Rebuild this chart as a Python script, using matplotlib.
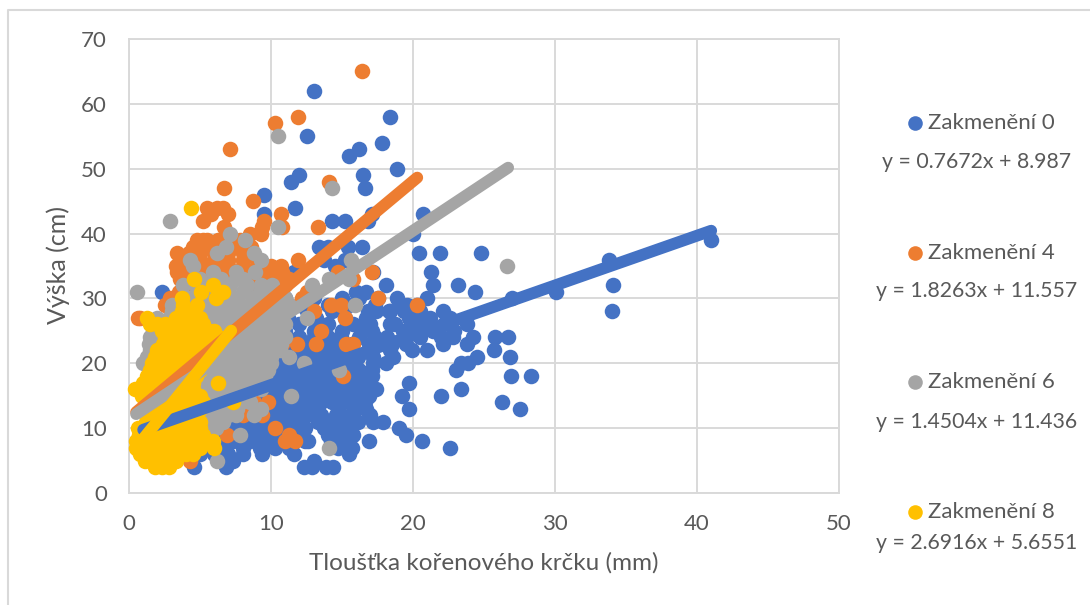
import numpy as np
import matplotlib
matplotlib.use('Agg')
import matplotlib.pyplot as plt
from matplotlib.lines import Line2D

plt.rcParams['font.family'] = ['Lato', 'DejaVu Sans']

W, H = 1090, 605

names = ['Zakmenění 0', 'Zakmenění 4', 'Zakmenění 6', 'Zakmenění 8']
equations = ['y = 0.7672x + 8.987', 'y = 1.8263x + 11.557',
             'y = 1.4504x + 11.436', 'y = 2.6916x + 5.6551']
colors = ['#4472C4', '#ED7D31', '#A5A5A5', '#FFC000']
slopes = [0.7672, 1.8263, 1.4504, 2.6916]
intercepts = [8.987, 11.557, 11.436, 5.6551]
line_start = [1.0, 0.5, 0.5, 0.8]
line_end = [41.0, 20.3, 26.7, 7.2]

# heights are whole cm, so points are kept as height: [thickness, ...]
blue_rows = {
    62: [13], 58: [18.4], 55: [12.5], 54: [17.8], 53: [16.2], 52: [15.5], 50: [18.9],
    49: [16.5, 12], 48: [11.4], 47: [16.6], 46: [9.5], 44: [11.7], 43: [9.5, 17.1, 20.7],
    42: [14.3, 15.2, 16.8], 40: [20], 39: [41], 38: [13.4, 14, 15.4, 16.4],
    37: [20.4, 21.9, 24.8], 36: [13.7, 15.2, 33.8], 35: [14.5], 34: [11.6, 17.2, 21.3],
    32: [18.1, 21.4, 23.2, 34.1], 31: [2.3, 16, 16.7, 24.4, 30.1], 30: [11, 13, 15, 16.2, 17.5, 18.9, 21, 27],
    29: [12, 14, 15.5, 17.3, 19.2, 19.6, 20.3],
    28: [10.5, 12.5, 14.3, 16.8, 17.4, 18.3, 18.4, 19.4, 20.5, 22.1, 34],
    27: [11.2, 13.2, 15.2, 16.7, 19.7, 20.2, 21.2, 22.6],
    26: [10, 12, 14, 15.8, 17, 18.4, 18.7, 20, 20.8, 21, 22.2, 23.8],
    25: [11, 13, 15, 16.4, 17.1, 19.3, 20.2, 21.4, 22.9],
    24: [10, 11, 12, 13, 14, 14.9, 16.2, 17.3, 18.2, 20.5, 22, 22.8, 24.2, 25.8, 26.7],
    23: [9, 10, 11, 12.7, 13.4, 14.2, 15, 15.7, 16.9, 18.5, 19.5, 22.1, 23.8],
    22: [9.5, 10.7, 11.4, 12.1, 13, 13.7, 14.6, 15.4, 17, 18.4, 19.9, 21, 25.7],
    21: [8.7, 10, 11.3, 12.1, 12.9, 13.6, 14.3, 15.2, 16.1, 17.2, 18.6, 24.5, 26.8],
    20: [9.2, 10.4, 11.2, 12, 12.7, 13.3, 14.2, 15, 15.9, 17.2, 18.1, 23.4, 23.9],
    19: [8.8, 9.9, 10.8, 11.8, 12.7, 13.6, 14.5, 15.4, 16.2, 17.1, 23],
    18: [8.2, 9.3, 10.5, 11.2, 12.2, 13.2, 14.2, 15.5, 16.6, 17.1, 26.9, 28.3],
    17: [9, 10, 10.8, 11.5, 12, 13, 14, 15.1, 16.3, 19.7],
    16: [8, 9.5, 10.2, 11, 12.2, 13.5, 14.5, 15.7, 17, 17.4, 23.4],
    15: [8.5, 9.8, 10.5, 11.5, 12.8, 13.9, 14.9, 16.1, 16.9, 19.2, 22],
    14: [7.5, 9, 10.2, 11.2, 12.3, 13.5, 14.3, 15.4, 16.6, 26.3],
    13: [8, 9.5, 10.3, 11, 12, 13, 14.7, 16, 16.7, 19.7, 27.5],
    12: [7.3, 8.7, 10, 11.3, 12.5, 13.5, 14.6, 15.6, 17],
    11: [7, 8.3, 9.5, 10.7, 12, 13.3, 14.3, 15.2, 15.6, 16.1, 17.2, 17.9],
    10: [7.5, 8.8, 10, 11.3, 12.4, 13.7, 14.5, 15.4, 19],
    9: [6.8, 8, 9.3, 10.5, 11.7, 14, 14.2, 15.1, 15.8, 19.5],
    8: [6, 7.3, 8.5, 9.7, 10.3, 10.7, 11, 12.4, 12.6, 14.2, 15.3, 16.9, 20.6],
    7: [5.5, 6.7, 8, 9.2, 10.3, 11.3, 14.7, 15.7, 22.6],
    6: [5, 6, 7, 8, 9.4, 11.6, 15.5],
    5: [3.2, 7.3, 13],
    4: [4.6, 6.8, 12.3, 12.9, 13.9, 14.4],
}

orange_rows = {
    65: [16.4], 58: [11.9], 57: [10.3], 53: [7.1], 48: [14.1], 47: [6.7], 45: [8.7],
    44: [5.5, 6.6, 6.2], 43: [5.8, 7, 10.7], 42: [5.2, 9.5], 41: [6.7, 9.4, 10.8, 13.3],
    40: [9.3, 8.5], 39: [4.8, 5.2, 5.5, 6.3, 7.8],
    38: [4.5, 5, 5.3, 6, 6.8, 7.5, 8.6], 37: [3.4, 4.2, 5, 6, 7, 8, 8.6],
    36: [3.8, 4.6, 5, 6, 7, 8, 9, 11.9], 35: [3.3, 4.5, 5.5, 6.2, 7, 8, 9, 10, 10.7],
    34: [3.4, 4, 5, 5.8, 6.5, 7.5, 8.5, 9.8, 10.3, 10.8, 14.7, 17.1],
    33: [3.6, 4.5, 5.8, 7, 8, 9, 9.5, 10.5, 11.3, 15.8],
    32: [4, 5.5, 7, 8.3, 9.7, 11], 31: [3.5, 4.5, 6, 9, 10.2, 12.5],
    30: [3.1, 2.9, 12.2, 17.5], 29: [2.5, 10.5, 11.3, 14.2, 14.9, 20.3],
    28: [9.5, 10.8, 13], 27: [0.65, 0.8, 9.2, 15.2], 25: [9.8, 13.5], 24: [9.7, 10],
    23: [10.8, 11.8, 13.2, 15.3, 15.8], 20: [8], 18: [15.1], 17: [8.2],
    14: [8.8, 9.8], 12: [8, 9.4], 10: [10.3], 9: [6.9, 11.3], 8: [11, 11.7], 5: [4.3],
}

gray_rows = {
    55: [10.5], 47: [14.3], 42: [2.9], 41: [10.5], 40: [7.1], 39: [8.2], 38: [6.8],
    37: [6.2, 8.8], 36: [4.3, 9.3, 15.6], 35: [4.5, 26.6], 34: [5.9, 7.5, 8.9],
    33: [5, 6.5, 7.5, 8, 14.1, 15.5], 32: [3.8, 4.7, 5.5, 6.3, 7.1, 8.3, 9.3, 10.1, 12.9],
    31: [0.54, 4.8, 6, 7, 8, 9.2, 10.5], 30: [4.2, 5.2, 6.5, 7.5, 8.7, 9.4, 10, 11],
    29: [3, 4, 5.5, 6.3, 7, 7.8, 8.5, 9.5, 10.5, 11, 11.3, 15.9],
    28: [3, 3.8, 4.5, 5.3, 6, 6.8, 7.5, 8.2, 9, 10, 11],
    27: [2, 2.8, 3.5, 4.3, 5, 5.8, 6.5, 7.2, 8, 8.8, 9.5, 10.5, 12.5],
    26: [2, 3, 3.8, 4.5, 5.2, 6, 7, 7.8, 8.5, 9.2, 10, 11],
    25: [1.7, 3, 4, 4.7, 5.5, 6.2, 7, 7.8, 8.5, 9.5, 10.5],
    24: [1.5, 2.2, 3, 4, 5, 5.8, 6.5, 7.2, 8, 9, 10.2, 11],
    23: [1.4, 2.2, 3, 3.8, 4.5, 5.2, 6, 6.8, 7.5, 8.2, 9, 9.8, 10.7],
    22: [1.5, 2.2, 3, 3.8, 4.6, 5.5, 6.2, 7, 7.8, 8.5, 9.2, 9.8, 10.6],
    21: [1.3, 2.1, 3, 4.5, 6, 6.8, 7.5, 8.3, 9, 10, 11.3],
    20: [1, 2, 3, 4.5, 5.5, 6.5, 7.3, 8, 8.7, 9.3, 10, 12.3],
    19: [1.5, 2.6, 4, 5.5, 6.3, 7, 7.8, 8.5, 9.2, 9.8, 14.8],
    18: [5.5, 6, 7, 7.5, 8, 8.5, 9, 9.6], 17: [5.5, 6.2, 6.8, 7.8, 8.4, 9],
    16: [5, 6, 6.8, 7.5, 8.1, 8.7, 9.3], 15: [5.5, 6.5, 7.2, 7.8, 8.4, 11.4],
    14: [5, 5.6, 6.2, 6.8, 7.3, 7.9, 8.5], 13: [5, 5.6, 6, 6.5, 7, 7.6, 9.3],
    12: [4.5, 5, 5.5, 6, 6.5, 7, 7.5, 8.8], 11: [5, 5.5, 6, 6.6], 10: [5, 5.5, 6.1],
    9: [7.8], 7: [14.1], 5: [6.2],
}

yellow_rows = {
    44: [4.4], 33: [4.6], 32: [5.9], 31: [5.1, 6.6], 30: [3.7, 6.1], 29: [4.8, 3.8],
    28: [3.7, 4.5], 27: [1.25, 3.3, 3.9, 4.2, 5], 26: [1.5, 2, 2.5, 3, 3.5, 4, 4.5, 5.2],
    25: [2.3, 2.8, 3.3, 3.9, 4.5, 5.2, 5.6, 6], 24: [2.5, 3, 3.5, 4, 4.5, 5, 5.6, 6.3],
    23: [2.4, 2.9, 3.3, 3.9, 4.5, 4.9, 5.3, 5.8], 22: [2, 2.5, 3, 3.5, 4, 4.5, 5, 5.5],
    21: [1.8, 2.2, 2.6, 3, 3.5, 4, 4.5, 5], 20: [1.6, 2, 2.5, 3, 3.5, 4, 4.5, 5, 5.5],
    19: [1.5, 2, 2.5, 3, 3.5, 4, 4.5, 5], 18: [1.3, 1.8, 2.3, 2.8, 3.3, 3.8, 4.2, 4.7],
    17: [1, 1.7, 2.2, 2.8, 3.2, 3.7, 4.1, 4.5, 6.3], 16: [0.4, 1, 1.5, 2, 2.5, 3, 3.5, 4, 4.5],
    15: [0.9, 1.7, 2.4, 3, 3.5, 4, 4.5, 5], 14: [2, 2.5, 3, 3.5, 4, 4.6, 5.2, 7.3],
    13: [1.5, 2, 2.5, 3, 3.5, 4, 4.5, 5], 12: [1.5, 2, 2.5, 3, 3.5, 4.2, 4.8],
    11: [1.2, 1.8, 2.3, 3, 3.5, 4, 4.5, 5], 10: [0.6, 1.5, 2.2, 2.8, 3.4, 4, 4.5, 5],
    9: [0.7, 1.2, 1.8, 2.4, 3, 3.6, 4.2, 4.7, 5.2], 8: [0.5, 1.3, 1.8, 2.3, 3, 3.5, 4, 4.5, 5.2, 5.9],
    7: [0.5, 1, 1.5, 2, 2.5, 3, 3.5, 4, 4.5, 5, 6], 6: [0.8, 1.5, 2, 2.5, 3, 3.5, 4, 4.5],
    5: [1.1, 1.8, 2.2, 2.6, 3.3], 4: [1.8, 2.3, 2.8],
}

all_rows = [blue_rows, orange_rows, gray_rows, yellow_rows]

legend_y = [123, 253, 382, 512]
equation_y = [162, 291, 422, 543]

fig = plt.figure(figsize=(W / 100, H / 100), dpi=100)
ax = fig.add_axes([129 / W, 1 - 493 / H, 710 / W, 454 / H])

for i, rows in enumerate(all_rows):
    xs = [x for y in rows for x in rows[y]]
    ys = [y for y in rows for x in rows[y]]
    ax.scatter(xs, ys, s=125, color=colors[i], linewidths=0, zorder=3 + i * 0.1, clip_on=False)

for i in range(4):
    x = np.array([line_start[i], line_end[i]])
    ax.plot(x, slopes[i] * x + intercepts[i], color=colors[i], lw=8.5,
            solid_capstyle='round', zorder=4 + i * 0.1)

ax.set_xlim(0, 50)
ax.set_ylim(0, 70)
ax.set_xticks(range(0, 51, 10))
ax.set_yticks(range(0, 71, 10))
ax.grid(True, color='#D9D9D9', lw=1.4)
ax.set_axisbelow(True)
for s in ax.spines.values():
    s.set_color('#D9D9D9')
    s.set_linewidth(1.4)
ax.tick_params(length=0, labelsize=16, labelcolor='#595959')
ax.tick_params(axis='x', pad=15)
ax.tick_params(axis='y', pad=16)

fig.text(484 / W, 1 - 563 / H, 'Tloušťka kořenového krčku (mm)', ha='center', va='center',
         fontsize=17.5, color='#595959')
fig.text(58 / W, 1 - 265 / H, 'Výška (cm)', rotation=90, ha='center', va='center',
         fontsize=18, color='#595959')

for i in range(4):
    fig.add_artist(Line2D([915 / W], [1 - legend_y[i] / H], marker='o', ms=10.5, color=colors[i],
                          mew=0, ls='none', transform=fig.transFigure))
    fig.text(928 / W, 1 - legend_y[i] / H, names[i], ha='left', va='center',
             fontsize=16, color='#595959')
    fig.text(977 / W, 1 - equation_y[i] / H, equations[i], ha='center', va='center',
             fontsize=15.3, color='#595959')

# chart frame, only top and left edges are inside the crop
fig.add_artist(Line2D([8 / W, 8 / W, 1], [0, 1 - 9.5 / H, 1 - 9.5 / H], color='#D9D9D9', lw=1.5,
                      transform=fig.transFigure))

fig.savefig('out.png', dpi=100)
